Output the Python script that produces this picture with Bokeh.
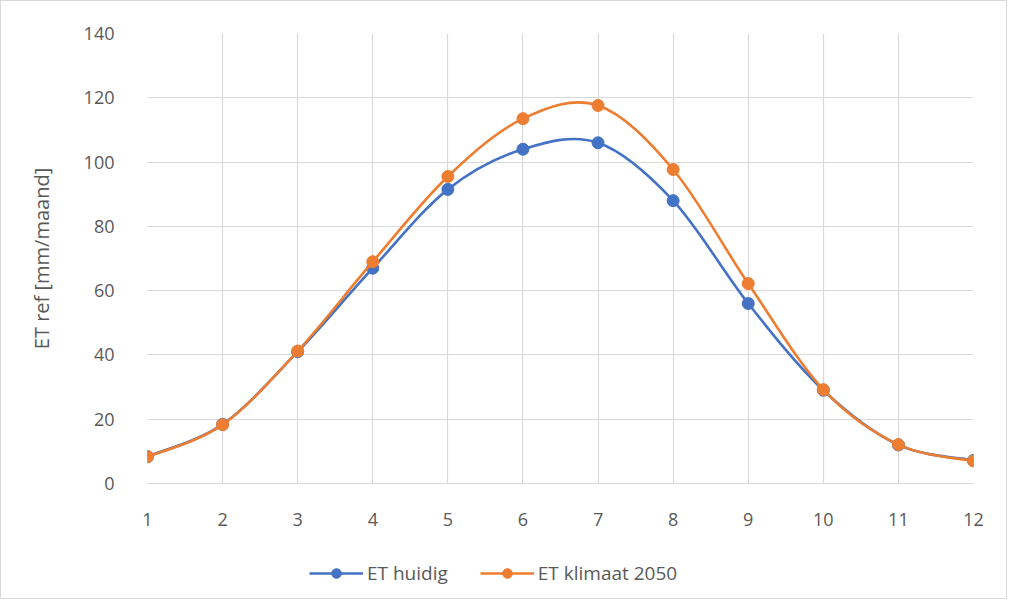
import numpy as np
from bokeh.plotting import figure
from bokeh.layouts import column
from bokeh.models import Legend, LegendItem, FixedTicker, Range1d
from bokeh.embed import file_html
from bokeh.resources import INLINE

# Data
months = [1, 2, 3, 4, 5, 6, 7, 8, 9, 10, 11, 12]
et_huidig = [8.4, 18.4, 41.0, 67.0, 91.5, 104.0, 106.0, 88.0, 56.0, 29.0, 12.0, 7.2]
et_klimaat = [8.3, 18.3, 41.2, 69.0, 95.5, 113.5, 117.6, 97.7, 62.2, 29.2, 12.1, 7.0]
series_labels = ["ET huidig", "ET klimaat 2050"]
y_ticks = [0, 20, 40, 60, 80, 100, 120, 140]

BLUE = "#4472C4"
ORANGE = "#ED7D31"
GREY = "#595959"
FONT = "Open Sans"


def smooth_segments(xs, ys):
    """Bezier control points for an Excel-like smoothed line through the points."""
    x = np.concatenate([[xs[0]], xs, [xs[-1]]]).astype(float)
    y = np.concatenate([[ys[0]], ys, [ys[-1]]]).astype(float)
    n = len(xs) - 1
    seg = dict(x0=[], y0=[], x1=[], y1=[], cx0=[], cy0=[], cx1=[], cy1=[])
    for i in range(n):
        seg["x0"].append(x[i + 1])
        seg["y0"].append(y[i + 1])
        seg["x1"].append(x[i + 2])
        seg["y1"].append(y[i + 2])
        seg["cx0"].append(x[i + 1] + (x[i + 2] - x[i]) / 6)
        seg["cy0"].append(y[i + 1] + (y[i + 2] - y[i]) / 6)
        seg["cx1"].append(x[i + 2] - (x[i + 3] - x[i + 1]) / 6)
        seg["cy1"].append(y[i + 2] - (y[i + 3] - y[i + 1]) / 6)
    return seg


p = figure(
    width=1005,
    height=545,
    x_range=Range1d(1, 12),
    y_range=Range1d(0, 140),
    output_backend="svg",
    toolbar_location=None,
    min_border_left=146,
    min_border_right=33,
    min_border_top=32,
    min_border_bottom=63,
)
p.outline_line_color = None

# Axes
p.xaxis.ticker = FixedTicker(ticks=months)
p.yaxis.ticker = FixedTicker(ticks=y_ticks)
p.xaxis.axis_line_color = "#d9d9d9"
p.yaxis.axis_line_color = None
for ax in (p.xaxis, p.yaxis):
    ax.major_tick_line_color = None
    ax.minor_tick_line_color = None
    ax.major_label_text_color = GREY
    ax.major_label_text_font = FONT
    ax.major_label_text_font_size = "18px"
p.xaxis.major_label_standoff = 23
p.yaxis.major_label_standoff = 27
p.yaxis.axis_label = "ET ref [mm/maand]"
p.yaxis.axis_label_text_font = FONT
p.yaxis.axis_label_text_font_size = "20px"
p.yaxis.axis_label_text_font_style = "normal"
p.yaxis.axis_label_text_color = GREY
p.yaxis.axis_label_standoff = 26

# Grid
p.xgrid.ticker = FixedTicker(ticks=months)
p.ygrid.ticker = FixedTicker(ticks=y_ticks)
p.xgrid.grid_line_color = "#d9d9d9"
p.ygrid.grid_line_color = "#d9d9d9"
p.xgrid.grid_line_width = 1.2
p.ygrid.grid_line_width = 1.2

# Series
colors = [BLUE, ORANGE]
series = [et_huidig, et_klimaat]
for vals, color in zip(series, colors):
    p.bezier(line_color=color, line_width=2.6, **smooth_segments(months, vals))
    p.scatter(months, vals, size=12, fill_color=color, line_color=color)

# Legend strip below the chart (a side-panel legend does not size well here)
lg = figure(
    width=1005,
    height=52,
    output_backend="svg",
    toolbar_location=None,
    min_border=0,
    x_axis_type=None,
    y_axis_type=None,
)
lg.outline_line_color = None
lg.xgrid.visible = False
lg.ygrid.visible = False
items = []
for label, vals, color in zip(series_labels, series, colors):
    ln = lg.line(months, vals, line_color=color, line_width=2.6, visible=False)
    dot = lg.scatter(months, vals, size=12, fill_color=color, line_color=color, visible=False)
    items.append(LegendItem(label=label, renderers=[ln, dot]))

legend = Legend(
    items=items,
    orientation="horizontal",
    location=(162, 12),
    glyph_width=54,
    glyph_height=24,
    spacing=32,
    padding=6,
    label_text_font=FONT,
    label_text_font_size="19px",
    label_text_color=GREY,
    label_standoff=4,
    border_line_color=None,
    background_fill_alpha=0,
    inactive_fill_alpha=0,
    margin=0,
)
lg.add_layout(legend, "center")

page = column(p, lg, spacing=0, styles={"border": "1px solid #d9d9d9"})
open("out.html", "w").write(file_html(page, INLINE))
